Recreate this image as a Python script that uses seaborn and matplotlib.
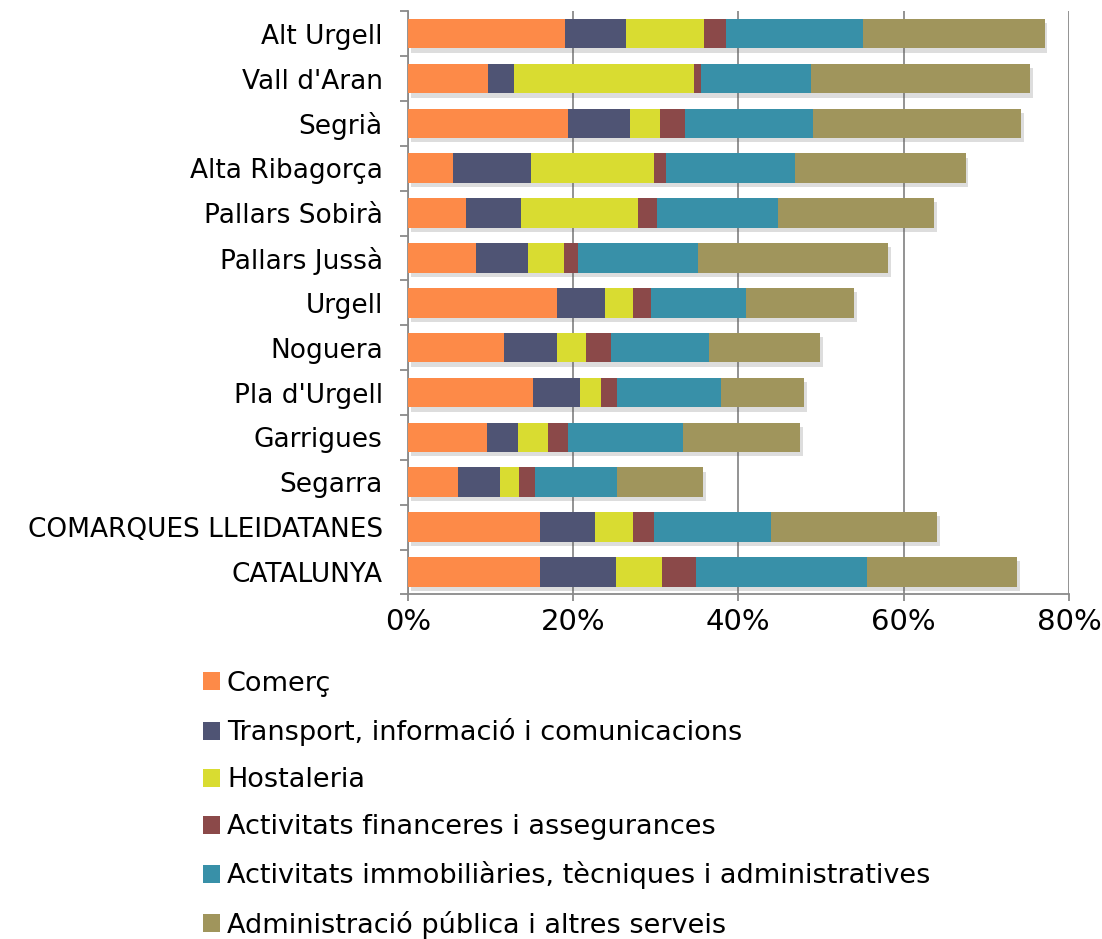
import matplotlib
matplotlib.use('Agg')
import matplotlib.pyplot as plt
import matplotlib.patheffects as pe
from matplotlib.patches import Patch
from matplotlib.ticker import FixedLocator, PercentFormatter
import numpy as np
import seaborn as sns

# Data (percentages)
regions = ['Alt Urgell', "Vall d'Aran", 'Segrià', 'Alta Ribagorça', 'Pallars Sobirà',
           'Pallars Jussà', 'Urgell', 'Noguera', "Pla d'Urgell", 'Garrigues', 'Segarra',
           'COMARQUES LLEIDATANES', 'CATALUNYA']
series = ['Comerç', 'Transport, informació i comunicacions', 'Hostaleria',
          'Activitats financeres i assegurances',
          'Activitats immobiliàries, tècniques i administratives',
          'Administració pública i altres serveis']
comerc = [19.0, 9.7, 19.4, 5.45, 7.0, 8.3, 18.1, 11.6, 15.1, 9.65, 6.1, 15.95, 15.95]
transport = [7.4, 3.2, 7.5, 9.45, 6.7, 6.25, 5.8, 6.45, 5.75, 3.65, 5.1, 6.65, 9.2]
hostaleria = [9.4, 21.7, 3.6, 14.85, 14.2, 4.35, 3.3, 3.5, 2.55, 3.7, 2.3, 4.6, 5.6]
financeres = [2.65, 0.9, 3.0, 1.45, 2.3, 1.65, 2.2, 3.05, 1.9, 2.45, 1.9, 2.6, 4.1]
immobiliaries = [16.6, 13.3, 15.5, 15.6, 14.55, 14.6, 11.5, 11.9, 12.6, 13.9, 9.9, 14.1, 20.7]
administracio = [22.0, 26.5, 25.2, 20.7, 18.9, 22.95, 13.15, 13.35, 10.1, 14.1, 10.4, 20.15, 18.15]
colors = ['#FD8A48', '#4F5474', '#D9DC31', '#8B4949', '#3890A8', '#A0955C']

values = [comerc, transport, hostaleria, financeres, immobiliaries, administracio]
cum = np.cumsum(np.array(values), axis=0)

sns.set_style('white')
plt.rcParams['font.family'] = ['DejaVu Sans']
plt.rcParams['text.color'] = 'black'
plt.rcParams['xtick.labelcolor'] = 'black'
plt.rcParams['ytick.labelcolor'] = 'black'

fig = plt.figure(figsize=(11.02, 9.39), dpi=100)
ax = fig.add_axes([0.370, 0.367, 0.600, 0.621])

# Stacked bars: draw cumulative totals from largest to smallest
for i in range(len(series) - 1, -1, -1):
    sns.barplot(x=cum[i], y=regions, orient='h', color=colors[i], width=0.66,
                saturation=1, linewidth=0, edgecolor='none', ax=ax,
                zorder=3 + (len(series) - i))

# Soft drop shadow on the outermost layer
n = len(regions)
for p in ax.patches[:n]:
    p.set_path_effects([pe.SimplePatchShadow(offset=(2, -3), alpha=0.2, shadow_rgbFace='#555555'),
                        pe.Normal()])

ax.set_xlim(0, 80)
ax.set_ylim(n - 0.5, -0.5)
ax.xaxis.set_major_locator(FixedLocator([0, 20, 40, 60, 80]))
ax.xaxis.set_major_formatter(PercentFormatter(decimals=0))
ax.grid(True, axis='x', color='#8a8a8a', linewidth=1.3, zorder=0)
ax.set_axisbelow(True)
ax.set_xlabel('')
ax.set_ylabel('')

for s in ['top', 'right']:
    ax.spines[s].set_visible(False)
for s in ['left', 'bottom']:
    ax.spines[s].set_color('#8a8a8a')
    ax.spines[s].set_linewidth(1.3)

ax.yaxis.set_minor_locator(FixedLocator(np.arange(-0.5, n, 1.0)))
ax.tick_params(axis='y', which='major', length=0, labelsize=19, pad=18)
ax.tick_params(axis='y', which='minor', left=True, length=6, width=1.3, color='#8a8a8a')
ax.tick_params(axis='x', which='major', bottom=True, length=5, width=1.3, color='#8a8a8a',
               labelsize=21, pad=5)

handles = [Patch(facecolor=c, edgecolor='none') for c in colors]
fig.legend(handles, series, loc='upper left', bbox_to_anchor=(0.174, 0.297), frameon=False,
           fontsize=19.5, handlelength=0.65, handleheight=0.65, handletextpad=0.25,
           labelspacing=0.78, borderaxespad=0)

fig.savefig('out.png', dpi=100)
